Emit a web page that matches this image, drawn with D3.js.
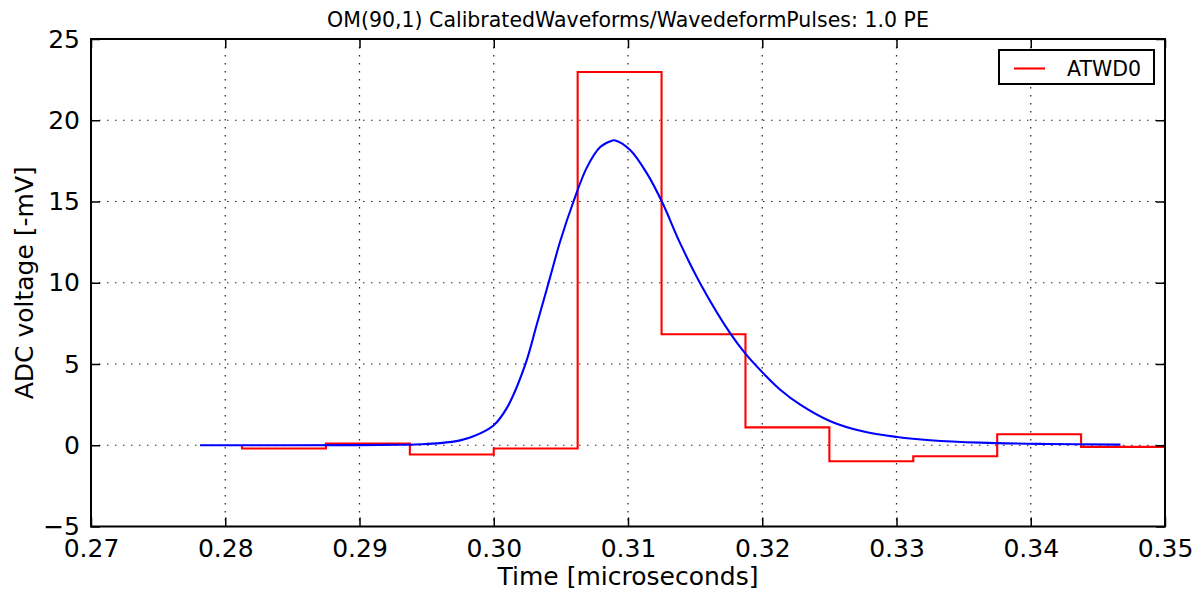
<!DOCTYPE html>
<html>
<head>
<meta charset="utf-8">
<script src="https://cdn.jsdelivr.net/npm/d3@7"></script>
<style>
  html, body { margin: 0; padding: 0; background: #fff; }
  svg { display: block; }
  text { font-family: "DejaVu Sans", sans-serif; fill: #000; }
</style>
</head>
<body>
<svg id="chart" width="1203" height="590"></svg>
<script>
// ---- data ----
const xTicks = [0.27, 0.28, 0.29, 0.30, 0.31, 0.32, 0.33, 0.34, 0.35];
const yTicks = [-5, 0, 5, 10, 15, 20, 25];

// ATWD0 step bins (bin start times, microseconds) and values (-mV)
const atwdEdges = [0.28125, 0.2875, 0.29375, 0.30, 0.30625, 0.3125, 0.31875, 0.325, 0.33125, 0.3375, 0.34375, 0.35];
const atwdValues = [-0.2, 0.1, -0.57, -0.2, 22.97, 6.83, 1.1, -0.98, -0.68, 0.68, -0.1];

// Wavedeform pulse reconstruction (blue curve)
const fitTime = [0.27812, 0.2850, 0.2900, 0.2930, 0.2945, 0.29601, 0.29750, 0.29849, 0.29998, 0.30098, 0.30234, 0.30321, 0.30408, 0.30495, 0.30594, 0.30694, 0.30793, 0.30880, 0.30905, 0.31016, 0.31141, 0.31253, 0.31389, 0.31538, 0.31762, 0.31873, 0.32010, 0.32134, 0.32283, 0.32507, 0.32755, 0.33004, 0.33252, 0.33625, 0.34121, 0.34668];
const fitValue = [0.0, 0.0, 0.01, 0.03, 0.06, 0.13, 0.3, 0.55, 1.22, 2.3, 4.95, 7.45, 9.98, 12.55, 15.0, 17.1, 18.35, 18.74, 18.76, 18.17, 16.73, 14.98, 12.42, 9.96, 6.88, 5.65, 4.41, 3.42, 2.5, 1.48, 0.84, 0.51, 0.31, 0.16, 0.08, 0.04];

const titleText = "OM(90,1) CalibratedWaveforms/WavedeformPulses: 1.0 PE";
const xLabel = "Time [microseconds]";
const yLabel = "ADC voltage [-mV]";
const legendLabel = "ATWD0";

// ---- layout ----
const svg = d3.select("#chart");
const L = 91, R = 1165, T = 39, B = 526.5;

const x = d3.scaleLinear().domain([0.27, 0.35]).range([L, R]);
const y = d3.scaleLinear().domain([-5, 25]).range([B, T]);

const defs = svg.append("defs");
defs.append("clipPath").attr("id", "clip").append("rect")
  .attr("x", L).attr("y", T).attr("width", R - L).attr("height", B - T);

// grid
const grid = svg.append("g");
grid.selectAll(".gx").data(xTicks.slice(1, -1)).enter().append("line")
  .attr("x1", d => x(d)).attr("x2", d => x(d)).attr("y1", T).attr("y2", B)
  .attr("stroke", "#222").attr("stroke-width", 1.2).attr("stroke-dasharray", "1.5,6.5");
grid.selectAll(".gy").data(yTicks.slice(1, -1)).enter().append("line")
  .attr("y1", d => y(d)).attr("y2", d => y(d)).attr("x1", L).attr("x2", R)
  .attr("stroke", "#222").attr("stroke-width", 1.2).attr("stroke-dasharray", "1.5,6.5");

// data lines
const plot = svg.append("g").attr("clip-path", "url(#clip)");

const stepPts = [[atwdEdges[0], 0]];
atwdValues.forEach((v, i) => stepPts.push([atwdEdges[i], v]));
stepPts.push([atwdEdges[atwdEdges.length - 1], atwdValues[atwdValues.length - 1]]);

plot.append("path")
  .attr("d", d3.line().x(d => x(d[0])).y(d => y(d[1])).curve(d3.curveStepAfter)(stepPts))
  .attr("fill", "none").attr("stroke", "#ff0000").attr("stroke-width", 2.1);

const fitPts = fitTime.map((t, i) => [t, fitValue[i]]);
plot.append("path")
  .attr("d", d3.line().x(d => x(d[0])).y(d => y(d[1])).curve(d3.curveCatmullRom.alpha(0.5))(fitPts))
  .attr("fill", "none").attr("stroke", "#0000ff").attr("stroke-width", 2.1);

// axes (ticks inward on all sides)
const tickLen = 9;
const fmtX = d3.format(".2f");
const fmtY = d => (d < 0 ? "\u2212" + Math.abs(d) : String(d));

const axB = d3.axisBottom(x).tickValues(xTicks).tickSize(-tickLen).tickPadding(13).tickFormat(fmtX);
const axT = d3.axisTop(x).tickValues(xTicks).tickSize(-tickLen).tickFormat("");
const axL = d3.axisLeft(y).tickValues(yTicks).tickSize(-tickLen).tickPadding(11).tickFormat(fmtY);
const axR = d3.axisRight(y).tickValues(yTicks).tickSize(-tickLen).tickFormat("");

function styleAxis(g) {
  g.select(".domain").remove();
  g.selectAll(".tick line").attr("stroke", "#000").attr("stroke-width", 1.5);
  g.selectAll(".tick text").attr("font-size", 25).attr("font-family", "DejaVu Sans").attr("fill", "#000");
}
svg.append("g").attr("transform", `translate(0,${B})`).call(axB).call(styleAxis)
  .selectAll(".tick text").attr("dy", "0.71em");
svg.append("g").attr("transform", `translate(0,${T})`).call(axT).call(styleAxis);
svg.append("g").attr("transform", `translate(${L},0)`).call(axL).call(styleAxis);
svg.append("g").attr("transform", `translate(${R},0)`).call(axR).call(styleAxis);

// frame
svg.append("rect").attr("x", L).attr("y", T).attr("width", R - L).attr("height", B - T)
  .attr("fill", "none").attr("stroke", "#000").attr("stroke-width", 2);

// title & labels
svg.append("text").attr("x", (L + R) / 2).attr("y", 27).attr("text-anchor", "middle")
  .attr("font-size", 20.5).text(titleText);
svg.append("text").attr("x", (L + R) / 2).attr("y", 585).attr("text-anchor", "middle")
  .attr("font-size", 25).text(xLabel);
svg.append("text").attr("transform", `translate(33,${(T + B) / 2}) rotate(-90)`)
  .attr("text-anchor", "middle").attr("font-size", 25).text(yLabel);

// legend
const lg = svg.append("g");
lg.append("rect").attr("x", 999).attr("y", 50).attr("width", 155).attr("height", 34)
  .attr("fill", "#fff").attr("stroke", "#000").attr("stroke-width", 2);
lg.append("line").attr("x1", 1014).attr("x2", 1045).attr("y1", 68.5).attr("y2", 68.5)
  .attr("stroke", "#ff0000").attr("stroke-width", 2.1);
lg.append("text").attr("x", 1067).attr("y", 76).attr("font-size", 20.5).text(legendLabel);
</script>
</body>
</html>
